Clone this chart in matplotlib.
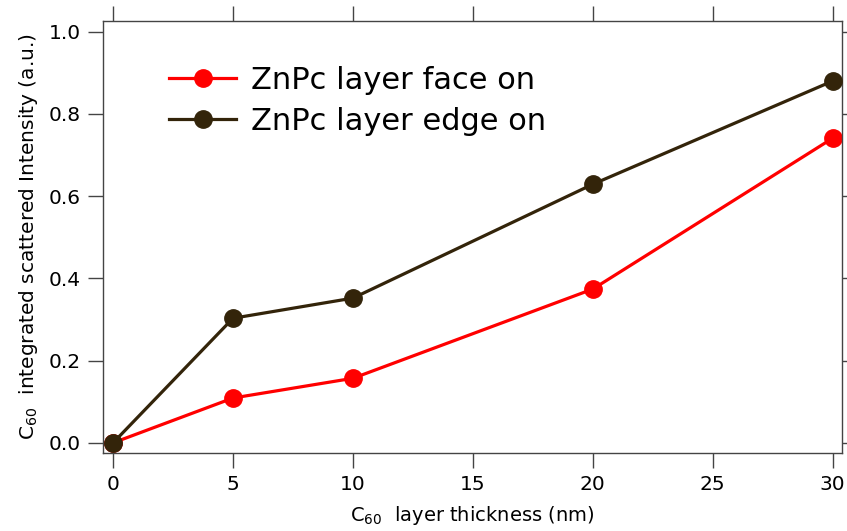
import matplotlib
matplotlib.use("Agg")
import matplotlib.pyplot as plt

thickness = [0, 5, 10, 20, 30]
face_on = [0.0, 0.109, 0.157, 0.374, 0.741]
edge_on = [0.0, 0.303, 0.352, 0.629, 0.880]

fig = plt.figure(figsize=(8.47, 5.31), dpi=100)
ax = fig.add_axes([103/847, 1-452.7/531, (842.3-103)/847, (452.7-21)/531])

ax.plot(thickness, face_on, '-o', color='#ff0000', lw=2.3, ms=12.5, label='ZnPc layer face on', zorder=2)
ax.plot(thickness, edge_on, '-o', color='#33240a', lw=2.3, ms=12.5, label='ZnPc layer edge on', zorder=3)

ax.set_xlim(-0.42, 30.4)
ax.set_ylim(-0.024, 1.026)
ax.set_xticks([0, 5, 10, 15, 20, 25, 30])
ax.set_yticks([0.0, 0.2, 0.4, 0.6, 0.8, 1.0])
ax.set_yticklabels(['0.0', '0.2', '0.4', '0.6', '0.8', '1.0'])
ax.tick_params(direction='out', length=11, width=1, colors='#444444', labelcolor='black',
               labelsize=14.5, top=True, right=True, pad=5)
for s in ax.spines.values():
    s.set_color('#444444')
    s.set_linewidth(1)

ax.set_xlabel(r'C$_{60}$  layer thickness (nm)', fontsize=14, labelpad=7)
ax.set_ylabel(r'C$_{60}$  integrated scattered Intensity (a.u.)', fontsize=14.5, labelpad=6)

ax.legend(loc='upper left', bbox_to_anchor=(0.052, 0.96), frameon=False, fontsize=22,
          handlelength=2.2, handletextpad=0.5, labelspacing=0.4)

fig.savefig('out.png', dpi=100)
